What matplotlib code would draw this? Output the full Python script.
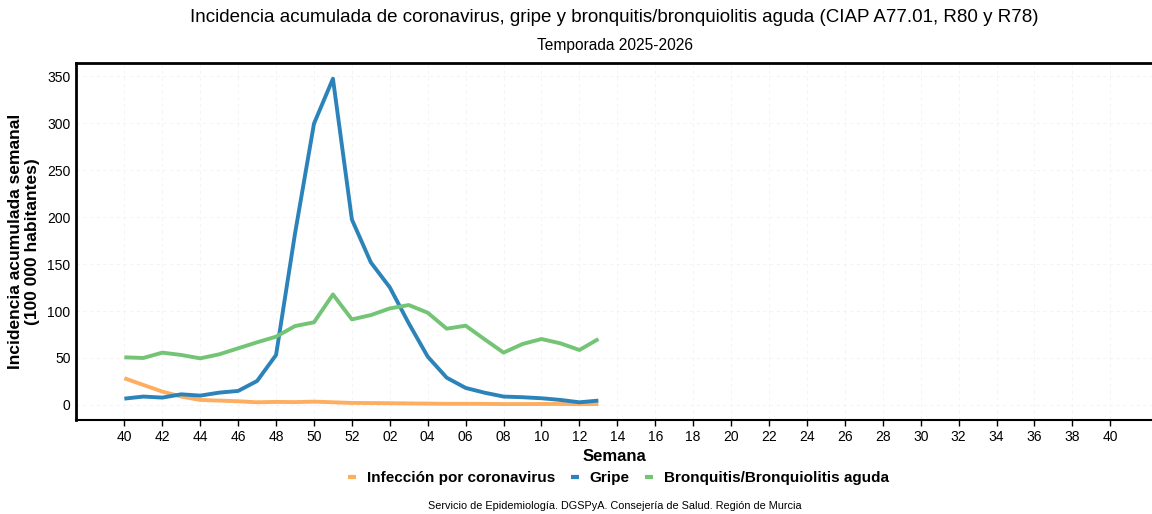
import matplotlib
matplotlib.use('Agg')
import matplotlib.pyplot as plt
from matplotlib.lines import Line2D

plt.rcParams['font.family'] = ['Liberation Sans', 'DejaVu Sans']

# Semanas de la temporada (eje x) y etiquetas de los ticks
semanas_eje = [str(w) for w in range(40, 53)] + ['%02d' % w for w in range(1, 41)]
semanas_datos = semanas_eje[:26]  # 40..52, 01..13

coronavirus = [28.4, 21.3, 14.2, 8.9, 5.3, 4.6, 3.9, 2.8, 3.2, 3.0, 3.5, 2.8, 2.1,
               2.0, 1.8, 1.6, 1.4, 1.2, 1.2, 1.1, 0.9, 0.9, 1.0, 1.0, 0.8, 0.9]
gripe = [6.7, 8.9, 7.8, 11.3, 9.9, 13.1, 14.9, 25.5, 53.2, 182.6, 299.6, 347.5, 197.5,
         151.8, 125.2, 86.9, 51.4, 29.0, 18.1, 13.0, 8.9, 8.2, 7.1, 5.3, 2.8, 4.6]
bronquitis = [50.7, 50.0, 55.7, 53.2, 49.6, 53.9, 60.3, 66.7, 72.7, 84.0, 88.0, 117.7, 91.1,
              95.7, 102.8, 106.4, 98.2, 81.2, 84.4, 69.9, 55.7, 64.9, 70.2, 65.6, 58.5, 70.2]

series = [('Infección por coronavirus', coronavirus, '#FDAE61'),
          ('Gripe', gripe, '#2B83BA'),
          ('Bronquitis/Bronquiolitis aguda', bronquitis, '#74C476')]

fig = plt.figure(figsize=(11.52, 5.14), dpi=100)
ax = fig.add_axes([0.066, 0.183, 0.934, 0.694])

x = list(range(len(semanas_datos)))
for nombre, valores, color in series:
    ax.plot(x, valores, color=color, linewidth=2.8, label=nombre, solid_capstyle='butt')

ticks = list(range(0, len(semanas_eje), 2))
ax.set_xticks(ticks)
ax.set_xticklabels([semanas_eje[i] for i in ticks], fontsize=10)
ax.set_xlim(-2.55, 54.2)
ax.set_ylim(-16, 364)
ax.set_yticks(range(0, 351, 50))
ax.tick_params(axis='y', length=0, labelsize=10, pad=4)
ax.tick_params(axis='x', length=4, width=1, pad=3)
ax.grid(True, color='#f2f2f2', linestyle=(0, (4, 4)), linewidth=0.6)

ax.spines['right'].set_visible(False)
ax.spines['top'].set_linewidth(2)
ax.spines['left'].set_linewidth(2)
ax.spines['bottom'].set_linewidth(1.5)

ax.set_xlabel('Semana', fontsize=12, fontweight='bold', labelpad=4)
ax.set_ylabel('Incidencia acumulada semanal\n(100 000 habitantes)', fontsize=12.5,
              fontweight='bold', labelpad=5, linespacing=1.15)

fig.text(0.533, 0.965, 'Incidencia acumulada de coronavirus, gripe y bronquitis/bronquiolitis aguda '
         '(CIAP A77.01, R80 y R78)', ha='center', va='center', fontsize=13.5)
fig.text(0.534, 0.912, 'Temporada 2025-2026', ha='center', va='center', fontsize=11.2)

handles = [Line2D([], [], color=c, linewidth=3, solid_capstyle='butt') for _, _, c in series]
fig.legend(handles, [n for n, _, _ in series], loc='center', bbox_to_anchor=(0.537, 0.07),
           ncol=3, frameon=False, handlelength=0.55, handletextpad=0.7, columnspacing=1.0,
           prop={'weight': 'bold', 'size': 11})

fig.text(0.534, 0.015, 'Servicio de Epidemiología. DGSPyA. Consejería de Salud. Región de Murcia',
         ha='center', va='center', fontsize=7.8)

fig.savefig('out.png', dpi=100)
